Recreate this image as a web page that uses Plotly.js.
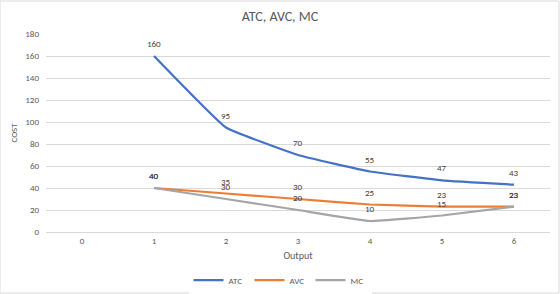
<!DOCTYPE html>
<html>
<head>
<meta charset="utf-8">
<script src="https://cdn.plot.ly/plotly-3.0.1.min.js"></script>
<style>
  html, body { margin: 0; padding: 0; background: #fff; }
  #chart { width: 560px; height: 294px; }
</style>
</head>
<body>
<div id="chart"></div>
<script>
// Output levels (category axis) and the three cost curves
const output = ['0', '1', '2', '3', '4', '5', '6'];
const atc = [null, 160, 95, 70, 55, 47, 43];
const avc = [null, 40, 35, 30, 25, 23, 23];
const mc  = [null, 40, 30, 20, 10, 15, 23];
const yTicks = [0, 20, 40, 60, 80, 100, 120, 140, 160, 180];

const fontFamily = 'Calibri, Carlito, "Open Sans", "Liberation Sans", Arial, sans-serif';
const labelFont = { family: fontFamily, size: 9, color: '#404040' };

const seriesList = [
  { name: 'ATC', values: atc, color: '#4472C4' },
  { name: 'AVC', values: avc, color: '#ED7D31' },
  { name: 'MC',  values: mc,  color: '#A5A5A5' }
];

const data = seriesList.map(s => ({
  type: 'scatter',
  mode: 'lines',
  name: s.name,
  x: output,
  y: s.values,
  line: { color: s.color, width: 2.25, shape: 'spline', smoothing: 0.3 },
  hoverinfo: 'x+y+name'
}));

// value labels sitting a little above each point
const annotations = [];
seriesList.forEach(s => {
  s.values.forEach((v, i) => {
    if (v == null) return;
    annotations.push({
      x: output[i], y: v, xref: 'x', yref: 'y',
      text: String(v), showarrow: false,
      xanchor: 'center', yanchor: 'bottom', yshift: 5,
      font: labelFont
    });
  });
});

const axisFont = { family: fontFamily, size: 9, color: '#595959' };

const layout = {
  width: 560,
  height: 294,
  margin: { l: 46, r: 10, t: 34, b: 62 },
  paper_bgcolor: '#fff',
  plot_bgcolor: '#fff',
  showlegend: true,
  title: {
    text: 'ATC, AVC, MC',
    x: 0.5, xanchor: 'center',
    y: 1 - 16 / 294, yanchor: 'middle',
    font: { family: fontFamily, size: 14, color: '#595959' }
  },
  xaxis: {
    type: 'category',
    range: [-0.5, 6.5],
    automargin: false,
    showgrid: false,
    zeroline: false,
    showline: false,
    ticks: '',
    ticklabelstandoff: 2,
    tickfont: axisFont,
    title: { text: 'Output', font: { family: fontFamily, size: 10, color: '#595959' }, standoff: 6 },
    fixedrange: true
  },
  yaxis: {
    range: [0, 180],
    automargin: false,
    tickvals: yTicks,
    ticktext: yTicks.map(String),
    showgrid: true,
    gridcolor: '#D9D9D9',
    gridwidth: 1,
    zeroline: true,
    zerolinecolor: '#D9D9D9',
    zerolinewidth: 1,
    showline: false,
    ticks: '',
    ticklabelstandoff: 6,
    tickfont: axisFont,
    title: { text: 'COST', font: { family: fontFamily, size: 9, color: '#595959' }, standoff: 6 },
    fixedrange: true
  },
  legend: {
    orientation: 'h',
    xref: 'container', yref: 'container',
    x: 0.5, xanchor: 'center',
    y: 1 - 280 / 294, yanchor: 'middle',
    font: { family: fontFamily, size: 9, color: '#595959' },
    entrywidth: 16,
    tracegroupgap: 0
  },
  annotations: annotations,
  shapes: [{
    type: 'rect', xref: 'paper', yref: 'paper',
    x0: -46 / 504, x1: 1 + 9 / 504,
    y0: -61 / 198, y1: 1 + 33 / 198,
    line: { color: '#D9D9D9', width: 1 }
  }]
};

Plotly.newPlot('chart', data, layout, { displayModeBar: false, staticPlot: true });
</script>
</body>
</html>
